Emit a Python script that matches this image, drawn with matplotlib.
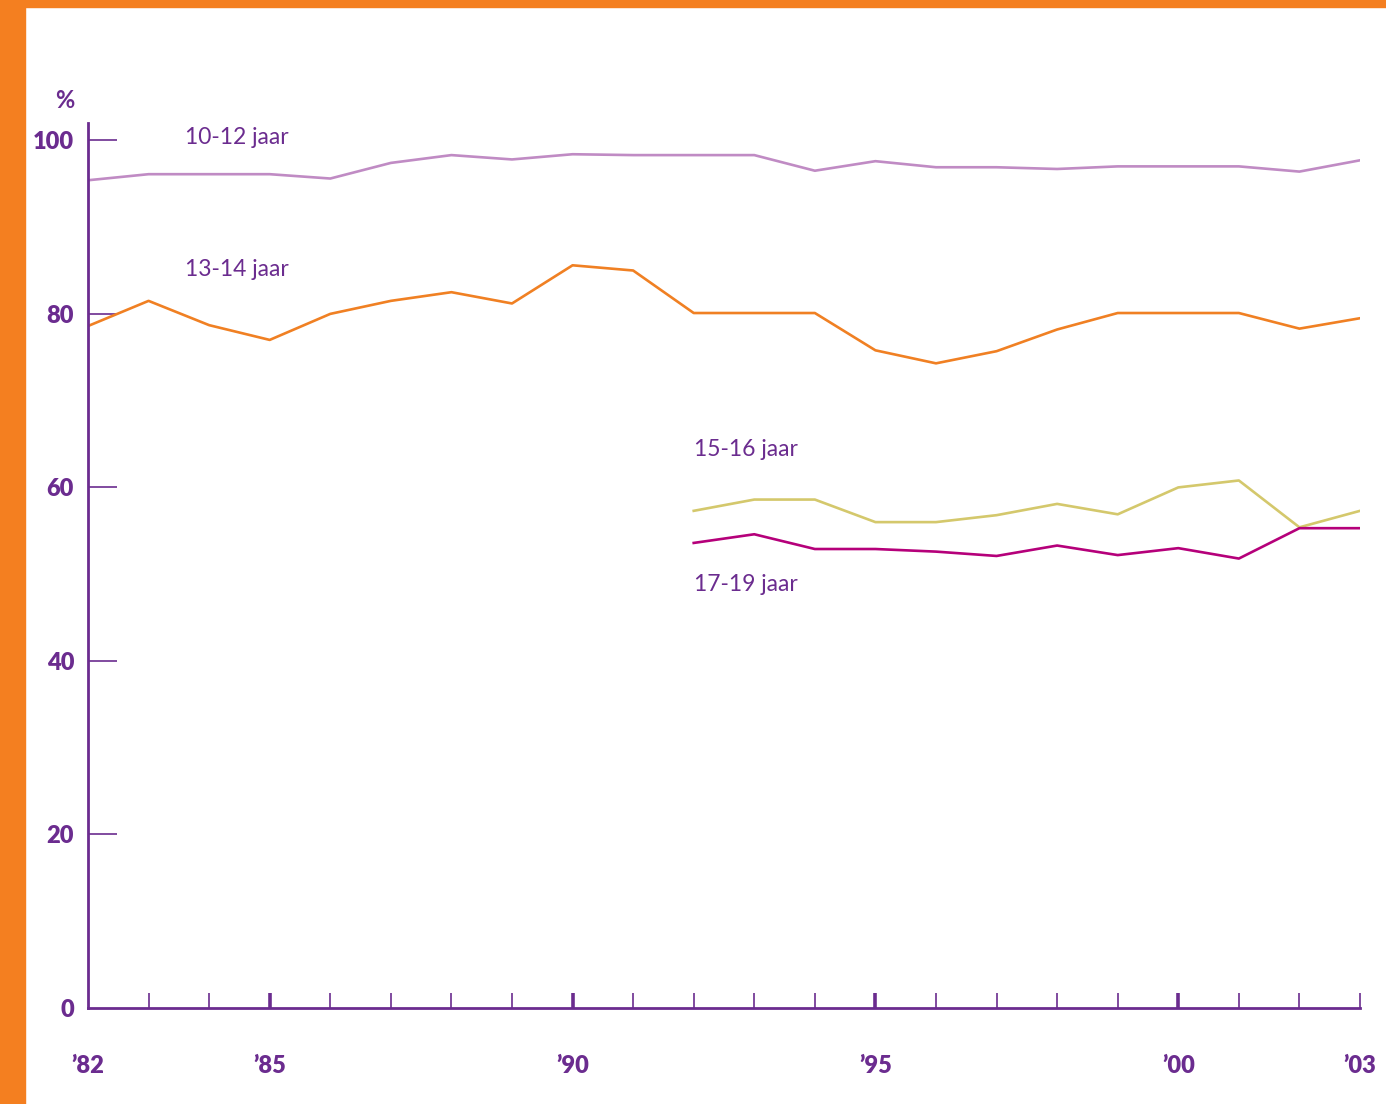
import matplotlib
matplotlib.use('Agg')
import matplotlib.pyplot as plt
from matplotlib.patches import Rectangle

years = list(range(1982, 2004))
years_late = list(range(1992, 2004))

age_10_12 = [95.4, 96.1, 96.1, 96.1, 95.6, 97.4, 98.3, 97.8, 98.4, 98.3, 98.3,
             98.3, 96.5, 97.6, 96.9, 96.9, 96.7, 97.0, 97.0, 97.0, 96.4, 97.7]
age_13_14 = [78.6, 81.5, 78.7, 77.0, 80.0, 81.5, 82.5, 81.2, 85.6, 85.0, 80.1,
             80.1, 80.1, 75.8, 74.3, 75.7, 78.2, 80.1, 80.1, 80.1, 78.3, 79.5]
age_15_16 = [57.3, 58.6, 58.6, 56.0, 56.0, 56.8, 58.1, 56.9, 60.0, 60.8, 55.4, 57.3]
age_17_19 = [53.6, 54.6, 52.9, 52.9, 52.6, 52.1, 53.3, 52.2, 53.0, 51.8, 55.3, 55.3]

yticks = [0, 20, 40, 60, 80, 100]
xtick_years = [1982, 1985, 1990, 1995, 2000, 2003]
xtick_labels = ['\u201982', '\u201985', '\u201990', '\u201995', '\u201900', '\u201903']

purple = '#6b2c8f'
orange = '#f47f20'

fig = plt.figure(figsize=(13.86, 11.04), dpi=100)
fig.patch.set_facecolor('white')
# orange frame on the left and top
fig.patches.append(Rectangle((0, 0), 25/1386, 1, transform=fig.transFigure,
                             color=orange, zorder=0))
fig.patches.append(Rectangle((0, 1 - 7/1104), 1, 7/1104, transform=fig.transFigure,
                             color=orange, zorder=0))

ax = fig.add_axes([88/1386, 1 - 1008/1104, 1272/1386, 885/1104])
ax.plot(years, age_10_12, color='#c08bc4', lw=1.9)
ax.plot(years, age_13_14, color='#f08023', lw=1.9)
ax.plot(years_late, age_15_16, color='#d4c86c', lw=1.9)
ax.plot(years_late, age_17_19, color='#b5007a', lw=1.9)

ax.set_xlim(1982, 2003)
ax.set_ylim(0, 102)

for s in ['top', 'right']:
    ax.spines[s].set_visible(False)
for s in ['left', 'bottom']:
    ax.spines[s].set_color(purple)
    ax.spines[s].set_linewidth(2)

# y ticks point inward
ax.set_yticks(yticks)
ax.set_yticklabels([str(v) for v in yticks], fontsize=17, fontweight='heavy',
                   color=purple, family='Lato')
ax.tick_params(axis='y', direction='in', length=21, width=1.2, color=purple, pad=10)
ax.yaxis.get_major_ticks()[0].tick1line.set_visible(False)

# x ticks: every year, thicker every five years
ax.set_xticks(xtick_years)
ax.set_xticklabels(xtick_labels, fontsize=17, fontweight='heavy', color=purple,
                   family='Lato')
ax.set_xticks(years, minor=True)
ax.tick_params(axis='x', which='major', direction='in', length=11, width=2.6,
               color=purple, pad=34)
ax.tick_params(axis='x', which='minor', direction='in', length=11, width=1.2,
               color=purple)
for t, yr in zip(ax.xaxis.get_major_ticks(), xtick_years):
    if yr in (1982, 2003):
        t.tick1line.set_markeredgewidth(1.2)
    if yr == 1982:
        t.tick1line.set_visible(False)
    t.label1.set_x(0)

ax.text(-0.018, 1.025, '%', transform=ax.transAxes, fontsize=17, fontweight='bold',
        color=purple, ha='center', va='center', family='Lato')

lbl = dict(fontsize=16.5, color=purple, family='Lato')
ax.text(1984.45, 100.3, '10-12 jaar', ha='center', va='center', **lbl)
ax.text(1984.45, 85.1, '13-14 jaar', ha='center', va='center', **lbl)
ax.text(1992.0, 64.4, '15-16 jaar', ha='left', va='center', **lbl)
ax.text(1992.0, 48.8, '17-19 jaar', ha='left', va='center', **lbl)

fig.savefig('out.png', dpi=100, facecolor='white')
